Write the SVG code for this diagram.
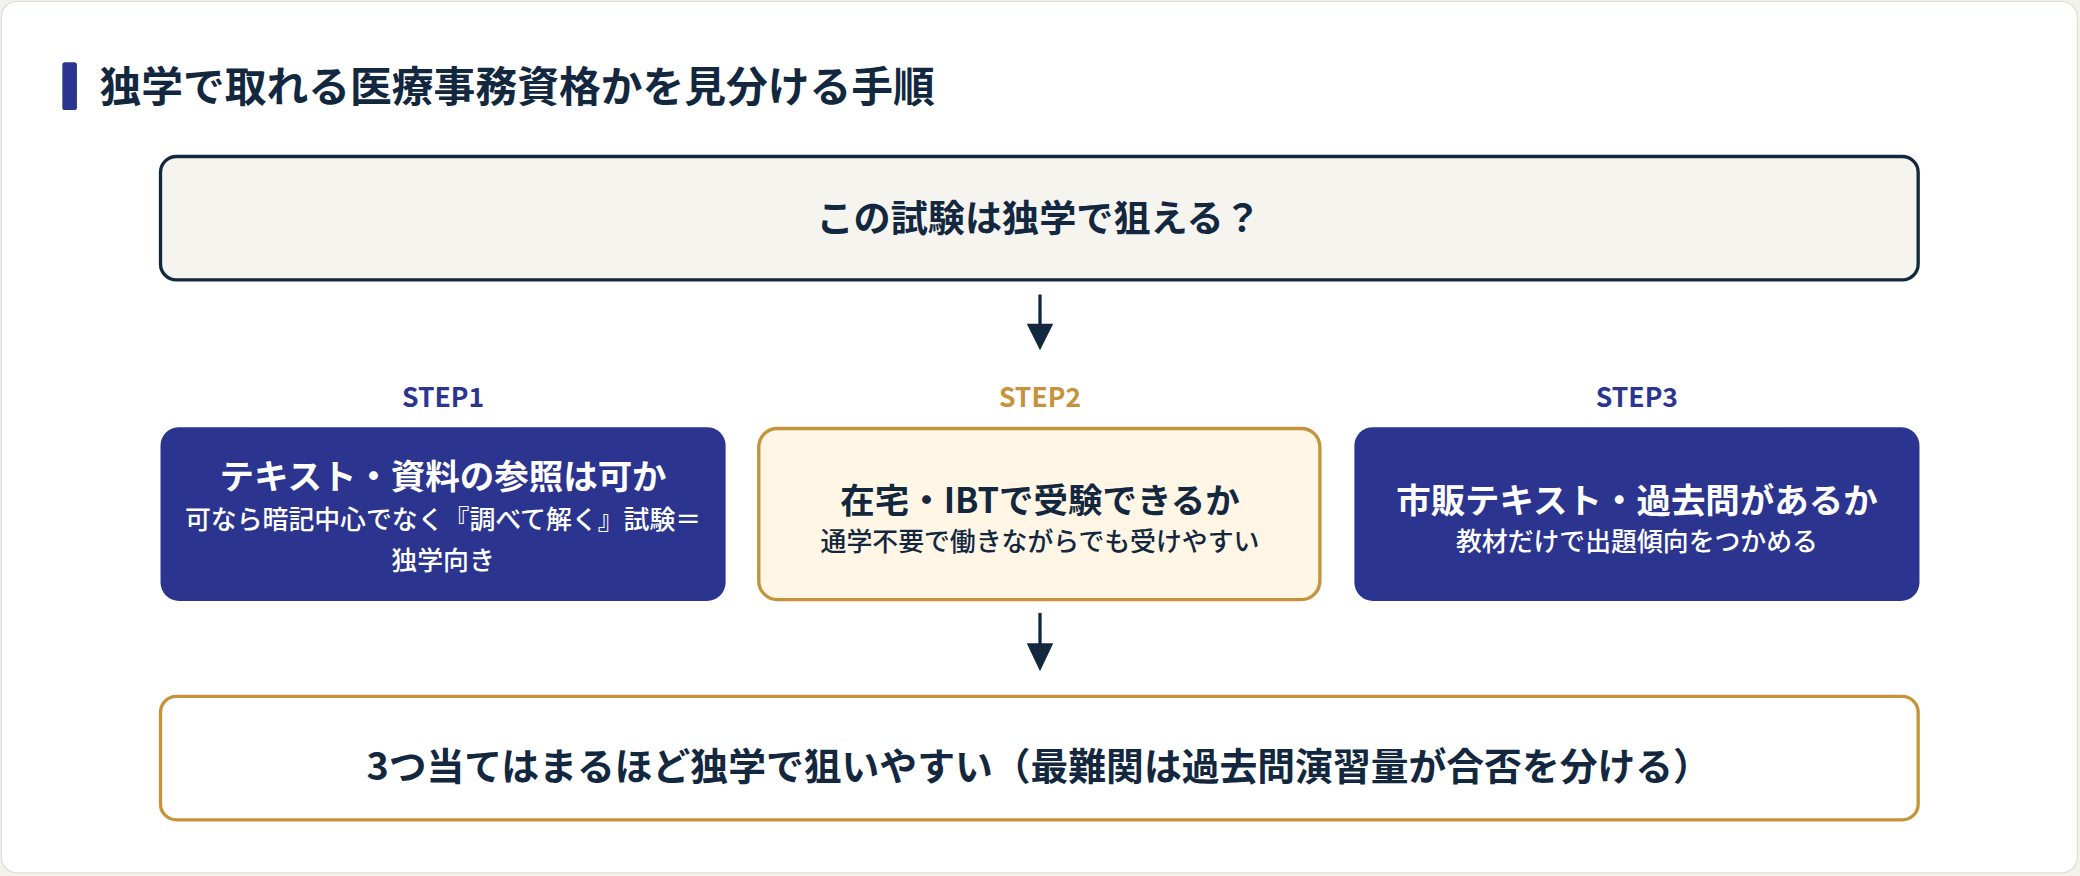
<svg xmlns="http://www.w3.org/2000/svg" width="2080" height="876" viewBox="0 0 2080 876">
<defs>
<style>
text{font-family:"Noto Sans CJK JP","Noto Sans",sans-serif;font-weight:700;text-anchor:middle}
.t{fill:#13283f}
.w{fill:#fff}
.navy{fill:#2b3590;stroke:none}
.sub{font-weight:500;font-size:19.5px}
.h{font-size:26px}
.st{font-size:20px}
</style>
</defs>
<rect width="2080" height="876" fill="#f3f2ec"/>
<g transform="scale(1.32653)">
<rect x="1" y="1" width="1565" height="657" rx="12" fill="#fff" stroke="#e2dfd2"/>
<g id="title">
<rect x="47" y="47" width="11" height="36" rx="2" class="navy"/>
<text x="75" y="77" class="t" style="text-anchor:start;font-size:31.5px">独学で取れる医療事務資格かを見分ける手順</text>
</g>
<g id="q">
<rect x="121" y="118" width="1325" height="93" rx="12" fill="#f5f4ef" stroke="#13283f" stroke-width="2.5"/>
<text x="783" y="175" class="t" font-size="28">この試験は独学で狙える？</text>
</g>
<g id="connectors" stroke="#13283f" stroke-width="2.5">
<line x1="784" y1="222" x2="784" y2="248"/>
<path d="M774,244L784,264L794,244z" fill="#13283f" stroke="none"/>
<line x1="784" y1="462" x2="784" y2="488"/>
<path d="M774,485L784,506L794,485z" fill="#13283f" stroke="none"/>
</g>
<g id="step1">
<text x="334" y="307" class="st" fill="#2b3590">STEP1</text>
<rect x="121" y="322" width="426" height="131" rx="14" class="navy"/>
<text x="334" y="369" class="w h">テキスト・資料の参照は可か</text>
<text x="334" y="399" class="w sub">可なら暗記中心でなく『調べて解く』試験＝</text>
<text x="334" y="430" class="w sub">独学向き</text>
</g>
<g id="step2">
<text x="784" y="307" class="st" fill="#c4933a">STEP2</text>
<rect x="572" y="323" width="423" height="129" rx="14" fill="#fff6e6" stroke="#c4933a" stroke-width="2.5"/>
<text x="784" y="387" class="t h">在宅・IBTで受験できるか</text>
<text x="784" y="415" class="t sub">通学不要で働きながらでも受けやすい</text>
</g>
<g id="step3">
<text x="1234" y="307" class="st" fill="#2b3590">STEP3</text>
<rect x="1021" y="322" width="426" height="131" rx="14" class="navy"/>
<text x="1234" y="387" class="w h">市販テキスト・過去問があるか</text>
<text x="1234" y="415" class="w sub">教材だけで出題傾向をつかめる</text>
</g>
<g id="result">
<rect x="121" y="525" width="1325" height="93" rx="12" fill="#fff" stroke="#c4933a" stroke-width="2.5"/>
<text x="783" y="588" class="t" font-size="28.5">3つ当てはまるほど独学で狙いやすい（最難関は過去問演習量が合否を分ける）</text>
</g>
</g>
</svg>
